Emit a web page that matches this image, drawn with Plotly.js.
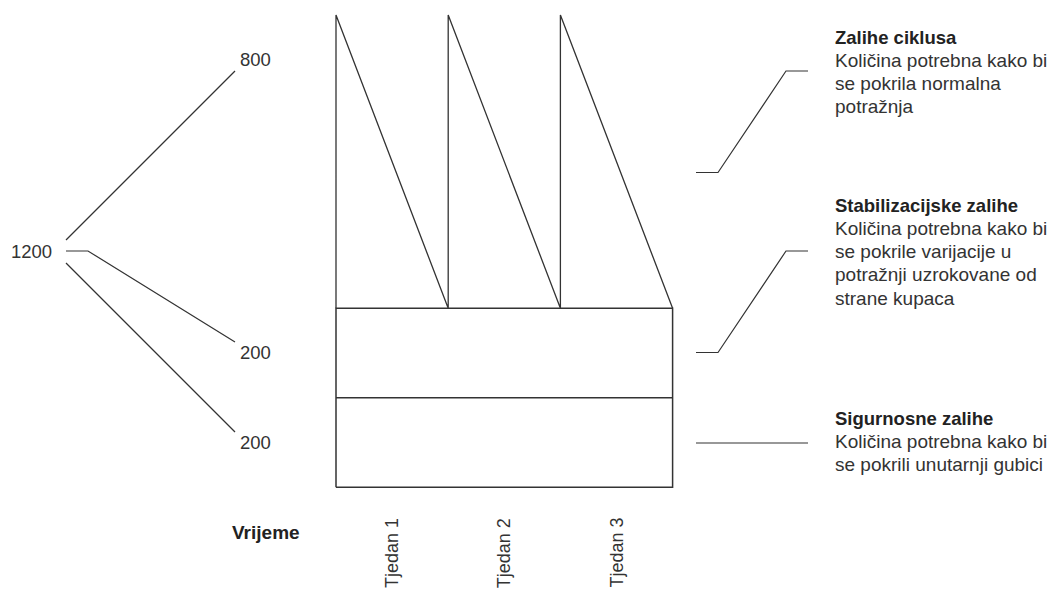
<!DOCTYPE html>
<html>
<head>
<meta charset="utf-8">
<script src="https://cdn.plot.ly/plotly-3.0.1.min.js"></script>
<style>html,body{margin:0;padding:0;background:#fff;}#chart{width:1053px;height:591px;}</style>
</head>
<body>
<div id="chart"></div>
<script>
// ---- data ----
const weeks = ['Tjedan 1', 'Tjedan 2', 'Tjedan 3'];
const stockTypes = ['Sigurnosne zalihe', 'Stabilizacijske zalihe', 'Zalihe ciklusa'];
const stockValues = [200, 200, 800];          // safety, stabilisation, cycle
const totalStock = 1200;
const stockDescriptions = [
  ['Količina potrebna kako bi', 'se pokrili unutarnji gubici'],
  ['Količina potrebna kako bi', 'se pokrile varijacije u', 'potražnji uzrokovane od', 'strane kupaca'],
  ['Količina potrebna kako bi', 'se pokrila normalna', 'potražnja']
];
const timeLabel = 'Vrijeme';

// ---- derived levels ----
const safetyTop = stockValues[0];
const stabTop = stockValues[0] + stockValues[1];
const cycleTop = stabTop + stockValues[2];
const nW = weeks.length;

const FONT = 'Liberation Sans, Arial, sans-serif';
const LC = '#333333';
const W = 1053, H = 591;
const px = x => x / W;
const py = y => 1 - y / H;

// band outline (lower bands) on y
const boxX = [0, nW, nW, 0, 0];
const boxY = [0, 0, stabTop, stabTop, 0];
// sawtooth (cycle stock) on y2
const sawX = [], sawY = [];
for (let i = 0; i < nW; i++) {
  sawX.push(i, i, i + 1);
  sawY.push(stabTop, cycleTop, stabTop);
}

const traces = [
  {x: boxX, y: boxY, mode: 'lines', line: {color: LC, width: 1.5}, hoverinfo: 'skip', showlegend: false},
  {x: [0, nW], y: [safetyTop, safetyTop], mode: 'lines', line: {color: LC, width: 1.5}, hoverinfo: 'skip', showlegend: false},
  {x: sawX, y: sawY, yaxis: 'y2', mode: 'lines', line: {color: LC, width: 1.3}, hoverinfo: 'skip', showlegend: false}
];

const annotations = [];
function txt(text, xp, yp, opts) {
  annotations.push(Object.assign({
    text: text, xref: 'paper', yref: 'paper', x: px(xp), y: py(yp),
    xanchor: 'left', yanchor: 'middle', showarrow: false,
    font: {family: FONT, size: 19, color: '#333'}
  }, opts || {}));
}
const numFont = {family: FONT, size: 18.5, color: '#333'};

// left value labels
txt(String(totalStock), 9, 251, {font: numFont});
txt(String(stockValues[2]), 238, 60, {font: numFont});
txt(String(stockValues[1]), 238, 352, {font: numFont});
txt(String(stockValues[0]), 238, 442, {font: numFont});

// time label and week labels
txt('<b>' + timeLabel + '</b>', 230, 532, {font: {family: FONT, size: 19, color: '#222'}});
weeks.forEach((w, i) => {
  annotations.push({
    text: w, xref: 'x', yref: 'paper', x: i + 0.5, y: py(553),
    xanchor: 'center', yanchor: 'middle', textangle: -90, showarrow: false,
    font: {family: FONT, size: 18, color: '#333'}
  });
});

// right descriptions
const blockTops = [418, 205, 37]; // safety, stab, cycle (pixel centres of titles)
const lineStep = 23.3;
stockTypes.forEach((t, k) => {
  const y0 = blockTops[k];
  txt('<b>' + t + '</b>', 833, y0, {font: {family: FONT, size: 18.5, color: '#222'}});
  stockDescriptions[k].forEach((ln, j) => txt(ln, 833, y0 + lineStep * (j + 1)));
});

// connector lines (paper coords)
function path(points) {
  return {
    type: 'path', xref: 'paper', yref: 'paper',
    path: points.map((p, i) => (i ? 'L' : 'M') + px(p[0]) + ',' + py(p[1])).join(' '),
    line: {color: LC, width: 1.2}
  };
}
const shapes = [
  path([[66, 240], [235, 71]]),
  path([[66, 251], [88, 251], [235, 342]]),
  path([[66, 263], [235, 432]]),
  path([[696, 172.5], [718, 172.5], [786, 71], [808, 71]]),
  path([[696, 352.5], [718, 352.5], [786, 251], [808, 251]]),
  path([[696, 443], [808, 443]])
];

// axes: map data to pixels of the reference diagram
const x0px = 336, weekPx = 112.2;
const s1 = 89.5 / 200;                       // lower bands px per unit
const s2 = (308.3 - 15) / stockValues[2];    // cycle band px per unit
const hidden = {showgrid: false, zeroline: false, showticklabels: false, showline: false, ticks: '', fixedrange: true};

const layout = {
  width: W, height: H,
  margin: {l: 0, r: 0, t: 0, b: 0, pad: 0},
  paper_bgcolor: '#fff', plot_bgcolor: '#fff',
  xaxis: Object.assign({range: [(0 - x0px) / weekPx, (W - x0px) / weekPx], domain: [0, 1]}, hidden),
  yaxis: Object.assign({range: [(487.3 - H) / s1, 487.3 / s1], domain: [0, 1]}, hidden),
  yaxis2: Object.assign({range: [stabTop + (308.3 - H) / s2, stabTop + 308.3 / s2], overlaying: 'y', domain: [0, 1]}, hidden),
  showlegend: false,
  annotations: annotations,
  shapes: shapes
};

Plotly.newPlot('chart', traces, layout, {staticPlot: true, displayModeBar: false});
</script>
</body>
</html>
